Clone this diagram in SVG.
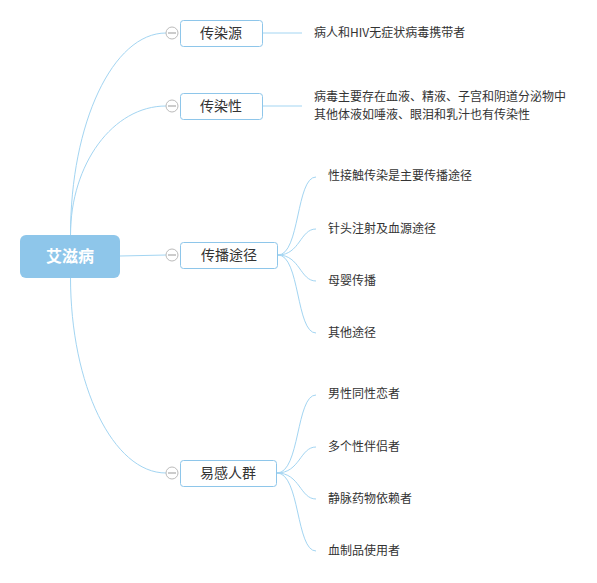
<svg xmlns="http://www.w3.org/2000/svg" width="597" height="583" viewBox="0 0 597 583">
<style>
.root{fill:#8ec6ea;}
.rt{font-family:"Noto Sans CJK SC","Liberation Sans",sans-serif;font-size:16px;font-weight:bold;fill:#fff;text-anchor:middle;}
.bn{fill:#fff;stroke:#8ec6ea;stroke-width:1;}
.bt{font-family:"Noto Sans CJK SC","Liberation Sans",sans-serif;font-size:14px;fill:#333;text-anchor:middle;}
.lt{font-family:"Noto Sans CJK SC","Liberation Sans",sans-serif;font-size:12px;fill:#333;}
.c{fill:none;stroke:#a3d5f2;stroke-width:1;}
.col{fill:#fff;stroke:#bbb;stroke-width:1;}
.colm{stroke:#999;stroke-width:1;}
</style>
<rect width="597" height="583" fill="#fff"/>
<g id="connectors">
<path class="c" d="M70.5,235 C70.5,123 113,33 166,33"/>
<path class="c" d="M70.5,235 C70.5,164 113,106 166,106"/>
<path class="c" d="M120,256 L166,255"/>
<path class="c" d="M70.5,277 C70.5,385 113,473 166,473"/>
<path class="c" d="M263,33 L302,33"/>
<path class="c" d="M263,106 L302,106"/>
<path class="c" d="M278,255 C300,255 296,177 316,177"/>
<path class="c" d="M278,255 C300,255 300,229 316,229"/>
<path class="c" d="M278,255 C300,255 300,281 316,281"/>
<path class="c" d="M278,255 C300,255 296,333 316,333"/>
<path class="c" d="M277,473 C300,473 296,395 316,395"/>
<path class="c" d="M277,473 C300,473 300,447 316,447"/>
<path class="c" d="M277,473 C300,473 300,499 316,499"/>
<path class="c" d="M277,473 C300,473 296,551 316,551"/>
</g>
<g id="root">
<rect class="root" x="20" y="235" width="100" height="43" rx="6"/>
<text class="rt" x="70" y="262">艾滋病</text>
</g>
<g id="n1">
<rect class="bn" x="180.5" y="20.5" width="82" height="26" rx="3"/>
<text class="bt" x="221" y="38">传染源</text>
<circle class="col" cx="172" cy="33" r="6"/><line class="colm" x1="168" y1="33" x2="176" y2="33"/>
</g>
<g id="n2">
<rect class="bn" x="180.5" y="93.5" width="82" height="26" rx="3"/>
<text class="bt" x="221" y="111">传染性</text>
<circle class="col" cx="172" cy="106" r="6"/><line class="colm" x1="168" y1="106" x2="176" y2="106"/>
</g>
<g id="n3">
<rect class="bn" x="180.5" y="242.5" width="97" height="26" rx="3"/>
<text class="bt" x="229" y="260">传播途径</text>
<circle class="col" cx="172" cy="255" r="6"/><line class="colm" x1="168" y1="255" x2="176" y2="255"/>
</g>
<g id="n4">
<rect class="bn" x="180.5" y="460.5" width="96" height="26" rx="3"/>
<text class="bt" x="228" y="478">易感人群</text>
<circle class="col" cx="172" cy="473" r="6"/><line class="colm" x1="168" y1="473" x2="176" y2="473"/>
</g>
<g id="l1"><text class="lt" x="314" y="37">病人和HIV无症状病毒携带者</text></g>
<g id="l2"><text class="lt" x="314" y="101">病毒主要存在血液、精液、子宫和阴道分泌物中</text><text class="lt" x="314" y="119">其他体液如唾液、眼泪和乳汁也有传染性</text></g>
<g id="l3"><text class="lt" x="328" y="180">性接触传染是主要传播途径</text></g>
<g id="l4"><text class="lt" x="328" y="233">针头注射及血源途径</text></g>
<g id="l5"><text class="lt" x="328" y="285">母婴传播</text></g>
<g id="l6"><text class="lt" x="328" y="337">其他途径</text></g>
<g id="l7"><text class="lt" x="328" y="398">男性同性恋者</text></g>
<g id="l8"><text class="lt" x="328" y="451">多个性伴侣者</text></g>
<g id="l9"><text class="lt" x="328" y="503">静脉药物依赖者</text></g>
<g id="l10"><text class="lt" x="328" y="555">血制品使用者</text></g>
</svg>
